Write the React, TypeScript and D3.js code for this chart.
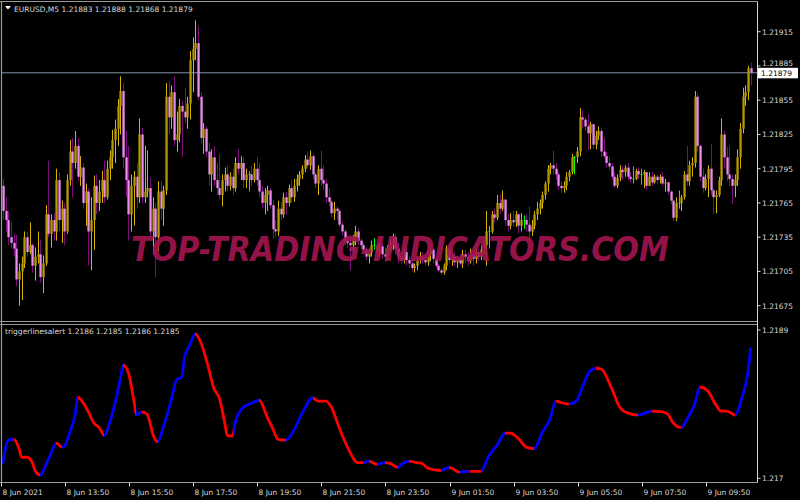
import React from 'react';
import * as d3 from 'd3';

// EURUSD M5 candles, prices stored as points (0.00001) above 1.21600
const BASE = 1.216;
const PT = 0.00001;

const opens = [
  180,158,150,135,130,125,98,105,112,135,122,128,110,118,120,100,112,155,138,150,
  140,185,150,160,140,185,210,200,215,188,196,165,175,140,150,180,165,175,185,170,
  195,205,220,230,250,263,205,185,155,180,188,170,225,170,175,178,140,160,135,175,
  160,176,258,240,262,220,225,250,245,240,252,290,300,305,258,222,230,210,190,205,
  185,178,172,185,190,180,188,178,200,195,200,185,190,190,185,195,185,175,165,172,
  176,163,142,140,160,155,170,165,178,170,180,186,190,195,203,198,206,190,182,195,
  185,182,170,166,156,160,158,146,140,132,130,128,134,140,132,128,124,118,122,128,
  128,122,127,120,118,125,130,135,125,118,115,122,115,112,108,110,115,118,115,113,
  120,124,116,110,106,104,110,125,115,118,113,116,112,120,118,114,120,116,122,118,
  124,128,140,140,155,152,165,160,168,150,145,150,148,155,145,150,150,146,140,145,
  155,160,165,172,182,195,198,195,190,180,178,180,188,192,205,205,210,240,238,232,
  226,234,216,224,228,210,206,200,197,188,180,187,194,192,196,188,186,186,193,190,
  190,192,180,188,183,188,185,188,182,183,175,167,152,165,165,170,190,184,198,200,
  258,215,188,178,186,195,176,170,172,185,225,205,190,186,180,185,205,230,258,262,
  283,
];
const highs = [
  186,170,158,148,138,137,112,118,140,140,148,130,126,140,133,119,163,202,155,156,
  195,192,167,165,190,220,222,228,222,206,200,182,178,170,189,190,185,193,202,202,
  211,229,238,256,276,270,228,215,190,193,200,239,231,215,211,187,170,165,184,184,
  180,270,272,268,276,245,256,255,266,258,298,310,325,320,262,235,232,218,212,215,
  200,208,190,196,198,192,195,205,212,206,205,195,193,198,200,205,200,180,178,180,
  178,168,150,167,166,174,175,181,185,186,190,193,198,207,210,211,208,192,198,211,
  198,186,178,168,166,162,160,148,142,136,137,137,145,143,134,130,126,125,132,134,
  130,130,130,126,128,134,138,138,130,122,125,126,118,115,112,118,122,122,120,124,
  128,126,118,112,108,112,128,128,120,122,118,120,124,124,122,125,124,126,125,128,
  132,158,145,158,160,172,172,176,168,155,156,158,158,156,156,154,155,162,150,158,
  166,168,175,184,198,200,211,200,192,184,184,192,194,208,206,214,248,246,240,243,
  236,234,228,232,231,222,210,205,200,192,190,198,197,198,200,192,197,195,196,195,
  194,192,192,192,190,190,190,192,186,184,176,168,170,176,172,193,215,202,205,263,
  261,216,195,190,198,217,178,176,188,239,228,214,215,190,190,212,235,266,268,285,
  288,
];
const lows = [
  150,140,128,125,118,92,75,80,108,118,120,104,97,112,95,86,110,135,126,132,
  132,140,130,128,138,180,170,195,184,180,160,145,110,106,124,155,158,165,165,168,
  185,195,200,215,225,195,170,132,140,145,160,165,165,165,170,136,120,100,123,150,
  145,172,225,230,215,210,218,205,235,230,238,262,290,255,217,208,205,180,175,180,
  172,168,162,175,175,176,172,175,190,185,178,178,175,180,183,180,170,160,155,158,
  160,134,135,136,150,152,155,162,165,166,175,180,186,192,195,194,186,178,172,180,
  176,165,162,152,150,150,144,136,128,126,106,122,128,128,124,120,115,112,118,124,
  118,118,116,113,115,122,124,120,112,112,112,110,108,105,104,106,112,112,110,110,
  114,112,108,104,102,102,106,112,110,110,108,110,108,112,110,112,110,112,114,115,
  120,110,125,138,148,150,155,158,145,140,142,144,144,138,140,142,140,132,136,142,
  150,155,160,168,175,190,190,185,176,174,174,176,184,190,190,200,206,230,228,211,
  212,212,212,220,205,204,196,194,185,178,178,184,185,188,185,183,182,185,186,181,
  178,176,180,180,182,182,182,180,175,172,164,149,149,160,158,168,180,180,188,196,
  210,184,174,176,170,172,155,156,170,180,195,184,180,164,170,180,195,226,250,255,
  268,
];
const closes = [
  158,150,135,130,125,98,105,112,135,122,128,110,118,120,100,112,155,138,150,140,
  185,150,160,140,185,210,200,215,188,196,165,175,140,150,180,165,175,185,170,195,
  205,220,230,250,263,205,185,155,180,188,170,225,170,175,178,140,160,135,175,160,
  176,258,240,262,220,225,250,245,240,252,290,300,305,258,222,230,210,190,205,185,
  178,172,185,190,180,188,178,200,195,200,185,190,190,185,195,185,175,165,172,176,
  163,142,140,160,155,170,165,178,170,180,186,190,195,203,198,206,190,182,195,185,
  182,170,166,156,160,158,146,140,132,130,128,134,140,132,128,124,118,122,128,128,
  122,127,120,118,125,130,135,125,118,115,122,115,112,108,110,115,118,115,113,120,
  124,116,110,106,104,110,125,115,118,113,116,112,120,118,114,120,116,122,118,124,
  128,140,140,155,152,165,160,168,150,145,150,148,155,145,150,150,146,140,145,155,
  160,165,172,182,195,198,195,190,180,178,180,188,192,205,205,210,240,238,232,226,
  234,216,224,228,210,206,200,197,188,180,187,194,192,196,188,186,186,193,190,190,
  192,180,188,183,188,185,188,182,183,175,167,152,165,165,170,190,184,198,200,258,
  215,188,178,186,195,176,170,172,185,225,205,190,186,180,185,205,230,258,262,283,
  279,
];

// triggerlinesalert readings: bar index and value (points above 1.21600)
const trigBars = [
  0,2,4,6,7,9,11,12,14,16,18,20,22,23,25,27,28,30,32,34,36,38,40,42,44,45,47,49,50,52,
  54,55,56,58,60,63,65,67,68,70,72,74,77,79,81,83,84,86,87,90,93,96,99,101,103,106,109,112,116,118,
  121,123,126,129,133,135,137,140,143,145,148,149,152,155,157,159,164,167,168,171,175,179,182,185,188,190,193,196,199,202,
  205,207,209,212,215,217,220,222,224,228,231,233,238,243,247,249,251,254,257,259,261,264,267,269,271,273,274,277,279,280,
];
const trigPts = [
  120,149,150,138,127,127,120,110,104,117,132,145,140,141,159,181,204,197,185,171,165,155,172,197,228,245,235,200,181,185,
  182,172,158,147,165,200,226,230,255,271,285,275,241,215,203,172,155,154,172,191,196,200,178,164,150,149,162,183,203,199,
  199,191,164,140,120,120,122,118,120,119,114,117,122,120,119,113,110,114,113,108,109,109,129,142,158,158,151,140,138,159,
  177,199,197,195,200,217,238,241,240,215,191,185,181,186,185,182,171,165,181,194,217,212,194,186,186,183,181,206,236,266,
];

const priceTicks = [1.21915, 1.21885, 1.21855, 1.21825, 1.21795, 1.21765, 1.21735, 1.21705, 1.21675];
const subTicks = [1.2189, 1.217];
const timeTickBars = [0, 24, 48, 72, 96, 120, 144, 168, 192, 216, 240, 264];
const timeTickLabels = [
  '8 Jun 2021', '8 Jun 13:50', '8 Jun 15:50', '8 Jun 17:50', '8 Jun 19:50', '8 Jun 21:50',
  '8 Jun 23:50', '9 Jun 01:50', '9 Jun 03:50', '9 Jun 05:50', '9 Jun 07:50', '9 Jun 09:50',
];
const lastPrice = 1.21879;
const headerText = 'EURUSD,M5  1.21883 1.21888 1.21868 1.21879';
const subLabel = 'triggerlinesalert 1.2186 1.2185 1.2186 1.2185';

const FONT = "'DejaVu Sans', Tahoma, sans-serif";
const AXIS_X = 757.5;
const MAIN_TOP = 1.5;
const MAIN_BOTTOM = 321.5;
const SUB_TOP = 324.5;
const SUB_BOTTOM = 482.5;

const px = (p: number) => BASE + p * PT;

export default function App() {
  const x = d3.scaleLinear().domain([0, 280]).range([3, 750.6]);
  const yMain = d3.scaleLinear().domain([1.21675, 1.21915]).range([305.7, 31.7]);
  const ySub = d3.scaleLinear().domain([1.217, 1.2189]).range([478.3, 330]);

  // indicator line, coloured blue when rising and red when falling
  const tPts = trigBars.map((b, k) => ({ x: x(b), y: ySub(px(trigPts[k])) }));
  const tx0 = tPts[0].x;
  const tx1 = tPts[tPts.length - 1].x;
  const stops: { off: number; col: string }[] = [];
  for (let k = 0; k < tPts.length - 1; k++) {
    const col = trigPts[k + 1] > trigPts[k] ? '#0000ff' : '#ff0000';
    stops.push({ off: (tPts[k].x - tx0) / (tx1 - tx0), col });
    stops.push({ off: (tPts[k + 1].x - tx0) / (tx1 - tx0), col });
  }
  const trigPath = d3.line<{ x: number; y: number }>()
    .x(d => d.x)
    .y(d => d.y)
    .curve(d3.curveMonotoneX)(tPts) || '';

  const candles = closes.map((c, i) => {
    const o = opens[i];
    const xi = Math.round(x(i));
    const top = yMain(px(Math.max(highs[i], o, c)));
    const bot = yMain(px(Math.min(lows[i], o, c)));
    const bTop = yMain(px(Math.max(o, c)));
    const bBot = yMain(px(Math.min(o, c)));
    if (o === c) {
      return (
        <g key={i}>
          <line x1={xi + 0.5} x2={xi + 0.5} y1={top} y2={bot} stroke="#00ff00" strokeWidth={1} />
          <line x1={xi - 0.5} x2={xi + 1.5} y1={bTop} y2={bTop} stroke="#00ff00" strokeWidth={1} />
        </g>
      );
    }
    const bull = c > o;
    return (
      <g key={i}>
        <line x1={xi + 0.5} x2={xi + 0.5} y1={top} y2={bot}
          stroke={bull ? '#d6b400' : '#7c0e7c'} strokeWidth={1} />
        <rect x={xi - 0.6} y={bTop} width={2.3} height={Math.max(1, bBot - bTop)}
          fill={bull ? '#b69a00' : '#ee8cee'} />
      </g>
    );
  });

  return (
    <svg width={800} height={500} style={{ position: 'fixed', left: 0, top: 0, background: '#000' }}>
      <rect x={0} y={0} width={800} height={500} fill="#000" />
      <defs>
        <clipPath id="mainClip">
          <rect x={2} y={MAIN_TOP + 0.5} width={AXIS_X - 2.5} height={MAIN_BOTTOM - MAIN_TOP - 1} />
        </clipPath>
        <clipPath id="subClip">
          <rect x={2} y={SUB_TOP + 0.5} width={AXIS_X - 2.5} height={SUB_BOTTOM - SUB_TOP - 1} />
        </clipPath>
        <linearGradient id="trigGrad" gradientUnits="userSpaceOnUse" x1={tx0} x2={tx1} y1={0} y2={0}>
          {stops.map((s, k) => (
            <stop key={k} offset={s.off} stopColor={s.col} />
          ))}
        </linearGradient>
      </defs>

      {/* main window */}
      <g clipPath="url(#mainClip)">
        <line x1={2} x2={AXIS_X} y1={yMain(lastPrice)} y2={yMain(lastPrice)} stroke="#8494a8" strokeWidth={1} />
        {candles}
        <text x={131} y={261} fontFamily={FONT} fontWeight="bold" fontStyle="italic" fontSize={34}
          fill="#a3154f" opacity={0.9} textLength={538} lengthAdjust="spacingAndGlyphs">
          TOP-TRADING-INDICATORS.COM
        </text>
      </g>

      {/* sub window */}
      <g clipPath="url(#subClip)">
        <path d={trigPath} fill="none" stroke="url(#trigGrad)" strokeWidth={2.8}
          strokeLinejoin="round" strokeLinecap="round" />
      </g>

      {/* frames */}
      <g stroke="#9a9a9a" strokeWidth={1.2} fill="none">
        <line x1={0} x2={AXIS_X} y1={MAIN_TOP} y2={MAIN_TOP} />
        <line x1={0} x2={AXIS_X} y1={MAIN_BOTTOM} y2={MAIN_BOTTOM} />
        <line x1={0} x2={AXIS_X} y1={SUB_TOP} y2={SUB_TOP} />
        <line x1={0} x2={AXIS_X} y1={SUB_BOTTOM} y2={SUB_BOTTOM} />
        <line x1={1.5} x2={1.5} y1={MAIN_TOP} y2={SUB_BOTTOM} />
      </g>
      <line x1={AXIS_X} x2={AXIS_X} y1={MAIN_TOP} y2={SUB_BOTTOM} stroke="#d8d8d8" strokeWidth={1} />

      {/* header */}
      <polygon points="5,6 11,6 8,9.5" fill="#ffffff" />
      <text x={14} y={12} fontFamily={FONT} fontSize={7.5} fill="#d8d8d8">{headerText}</text>
      <text x={5} y={334} fontFamily={FONT} fontSize={7.5} fill="#d8d8d8">{subLabel}</text>

      {/* price axis; the label next to the current-price box is nudged up so it stays readable */}
      {priceTicks.map(t => {
        const ty = yMain(t);
        const near = Math.abs(ty - yMain(lastPrice)) < 9;
        return (
          <g key={t}>
            <line x1={AXIS_X} x2={AXIS_X + 3} y1={ty} y2={ty} stroke="#d8d8d8" />
            <text x={762} y={ty + (near ? 0.2 : 2.8)} fontFamily={FONT} fontSize={7.5} fill="#d8d8d8">{t.toFixed(5)}</text>
          </g>
        );
      })}
      <rect x={758} y={yMain(lastPrice) - 5} width={40} height={10.5} fill="#ffffff" />
      <text x={761} y={yMain(lastPrice) + 2.8} fontFamily={FONT} fontSize={7.5} fill="#000000">{lastPrice.toFixed(5)}</text>

      {subTicks.map(t => (
        <g key={t}>
          <line x1={AXIS_X} x2={AXIS_X + 3} y1={ySub(t)} y2={ySub(t)} stroke="#d8d8d8" />
          <text x={762} y={ySub(t) + 2.8} fontFamily={FONT} fontSize={7.5} fill="#d8d8d8">{String(t)}</text>
        </g>
      ))}

      {/* time axis */}
      {timeTickBars.map((b, k) => {
        const tx = Math.round(x(b)) - 1.5;
        return (
          <g key={b}>
            <line x1={tx} x2={tx} y1={SUB_BOTTOM} y2={SUB_BOTTOM + 4} stroke="#d8d8d8" />
            <text x={tx + 1} y={494.5} fontFamily={FONT} fontSize={7.5} fill="#d8d8d8">{timeTickLabels[k]}</text>
          </g>
        );
      })}
    </svg>
  );
}
